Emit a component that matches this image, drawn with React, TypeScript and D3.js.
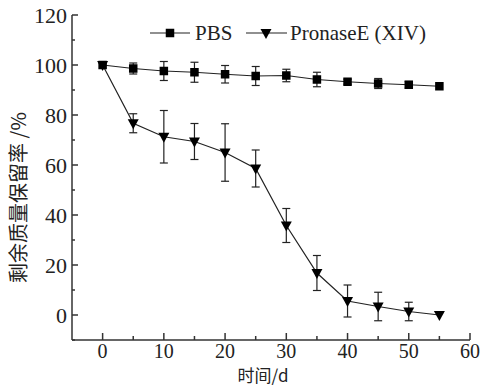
import React from "react";
import * as d3 from "d3";

const days = [0, 5, 10, 15, 20, 25, 30, 35, 40, 45, 50, 55];
const pbsMean = [100, 98.6, 97.6, 97.1, 96.3, 95.6, 95.8, 94.2, 93.3, 92.6, 92.1, 91.5];
const pbsErr = [0, 2.2, 3.8, 4, 3.5, 3.8, 2.5, 2.9, 1, 2, 1.3, 0];
const proMean = [100, 76.7, 71.3, 69.4, 65, 58.6, 35.8, 16.8, 5.6, 3.4, 1.4, 0];
const proErr = [0, 3.8, 10.5, 7.2, 11.5, 7.4, 6.8, 7, 6.4, 5.7, 3.7, 0];
const xTicks = [0, 10, 20, 30, 40, 50, 60];
const xMinor = [5, 15, 25, 35, 45, 55];
const yTicks = [0, 20, 40, 60, 80, 100, 120];
const yMinor = [-10, 10, 30, 50, 70, 90, 110];
const seriesNames = ["PBS", "PronaseE (XIV)"];
const yLabel = "剩余质量保留率 /%";
const xLabel = "时间/d";

const W = 480, H = 388;
const x = d3.scaleLinear().domain([-5, 60]).range([72, 470]);
const y = d3.scaleLinear().domain([-10, 120]).range([340, 15]);

const serif = "Liberation Serif, Times New Roman, serif";
const cjk = "Noto Sans CJK SC, sans-serif";

function Square({ cx, cy }: { cx: number; cy: number }) {
  const s = 8.5;
  return <rect x={cx - s / 2} y={cy - s / 2} width={s} height={s} fill="#000" />;
}
function Tri({ cx, cy }: { cx: number; cy: number }) {
  const w = 11, h = 10;
  return <path d={`M${cx - w / 2},${cy - h / 2 + 1}L${cx + w / 2},${cy - h / 2 + 1}L${cx},${cy + h / 2 + 1}Z`} fill="#000" />;
}

export default function App() {
  const line = d3.line<[number, number]>().x(d => x(d[0])).y(d => y(d[1]));
  const pbsPts = days.map((d, i) => [d, pbsMean[i]] as [number, number]);
  const proPts = days.map((d, i) => [d, proMean[i]] as [number, number]);
  const ebar = (d: number, m: number, e: number, k: string) => {
    if (e <= 0) return null;
    const cx = x(d), cap = 4;
    return (
      <g key={k} stroke="#222" strokeWidth={1.2}>
        <line x1={cx} x2={cx} y1={y(m + e)} y2={y(m - e)} />
        <line x1={cx - cap} x2={cx + cap} y1={y(m + e)} y2={y(m + e)} />
        <line x1={cx - cap} x2={cx + cap} y1={y(m - e)} y2={y(m - e)} />
      </g>
    );
  };
  return (
    <svg width={W} height={H} style={{ position: "absolute", left: 0, top: 0, background: "#fff" }}>
      <g stroke="#333" strokeWidth={1.5}>
        <line x1={72} x2={72} y1={y(120)} y2={340} />
        <line x1={72} x2={x(60)} y1={340} y2={340} />
        {yTicks.map(t => <line key={"yt" + t} x1={72} x2={78} y1={y(t)} y2={y(t)} />)}
        {yMinor.map(t => <line key={"ym" + t} x1={72} x2={75} y1={y(t)} y2={y(t)} />)}
        {xTicks.map(t => <line key={"xt" + t} x1={x(t)} x2={x(t)} y1={340} y2={333} />)}
        {xMinor.map(t => <line key={"xm" + t} x1={x(t)} x2={x(t)} y1={340} y2={336} />)}
      </g>
      {yTicks.map(t => (
        <text key={"yl" + t} x={67} y={y(t)} dy="0.35em" textAnchor="end"
          style={{ fontFamily: serif, fontSize: 22, fill: "#222" }}>{t}</text>
      ))}
      {xTicks.map(t => (
        <text key={"xl" + t} x={x(t)} y={358} textAnchor="middle"
          style={{ fontFamily: serif, fontSize: 20, fill: "#222" }}>{t}</text>
      ))}
      <text textAnchor="middle" style={{ fontFamily: cjk, fontSize: 20, fill: "#222" }}
        transform={`translate(26,${(y(120) + 340) / 2 + 20}) rotate(-90)`}>{yLabel}</text>
      <text x={263} y={382} textAnchor="middle" style={{ fontFamily: cjk, fontSize: 17, fill: "#222" }}>{xLabel}</text>

      <path d={line(pbsPts) || ""} fill="none" stroke="#222" strokeWidth={1.2} />
      <path d={line(proPts) || ""} fill="none" stroke="#222" strokeWidth={1.2} />
      {days.map((d, i) => ebar(d, pbsMean[i], pbsErr[i], "pe" + i))}
      {days.map((d, i) => ebar(d, proMean[i], proErr[i], "re" + i))}
      {days.map((d, i) => <Tri key={"rt" + i} cx={x(d)} cy={y(proMean[i])} />)}
      {days.map((d, i) => <Square key={"ps" + i} cx={x(d)} cy={y(pbsMean[i])} />)}

      <g stroke="#222" strokeWidth={1.2}>
        <line x1={150} x2={190} y1={33} y2={33} />
        <line x1={246} x2={287} y1={33} y2={33} />
      </g>
      <Square cx={170} cy={33} />
      <Tri cx={266} cy={33} />
      <text x={195} y={40} style={{ fontFamily: serif, fontSize: 21, fill: "#222" }}>{seriesNames[0]}</text>
      <text x={290} y={40} style={{ fontFamily: serif, fontSize: 21, fill: "#222" }}>{seriesNames[1]}</text>
    </svg>
  );
}
